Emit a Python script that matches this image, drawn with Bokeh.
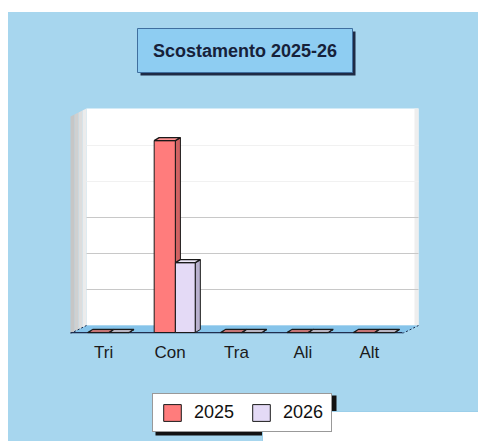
import numpy as np
from bokeh.plotting import figure
from bokeh.layouts import column
from bokeh.models import Range1d, FixedTicker, Legend, LegendItem, BoxAnnotation
from bokeh.core.properties import value
from bokeh.embed import file_html
from bokeh.resources import INLINE

# ---- data ----
categories = ["Tri", "Con", "Tra", "Ali", "Alt"]
series_names = ["2025", "2026"]
values_2025 = [0.0, 5.33, 0.0, 0.0, 0.0]
values_2026 = [0.0, 1.94, 0.0, 0.0, 0.0]
grid_values = [1, 2, 3, 4, 5]
title_text = "Scostamento 2025-26"

# ---- style / geometry ----
BG = "#A7D6EE"
FLOOR = "#86C4EA"
FONT = "Liberation Sans"
FRAME_W, FRAME_H = 470, 321
CAT_PX, UNIT_PX = 66.4, 36.0
PXX, PXY = 1.0 / CAT_PX, 1.0 / UNIT_PX
XL = -0.5                      # left edge of the chart box (front)
XR = XL + 348 * PXX            # right edge of the back wall
F0 = XL - 62 * PXX             # frame left
F1 = F0 + FRAME_W * PXX        # frame right
BDX, BDY = 16 * PXX, 8 * PXY   # full depth of the 3D box
WALL_TOP = 225 * PXY
FX, FY = 2 * PXX, 1 * PXY      # bar front-face shift
DX, DY = 5 * PXX, 3 * PXY      # bar depth

p = figure(frame_width=FRAME_W, frame_height=FRAME_H,
           min_border_left=0, min_border_right=0, min_border_top=0, min_border_bottom=47,
           x_range=Range1d(F0, F1), y_range=Range1d(0, FRAME_H * PXY),
           y_axis_location=None, output_backend="svg", toolbar_location=None,
           background_fill_color=None, border_fill_color=None)
p.grid.visible = False
p.outline_line_color = None

# back wall
p.quad(left=[XL + BDX], right=[XR], bottom=[BDY], top=[WALL_TOP],
       fill_color="white", line_color=None)
p.quad(left=[XR - 4 * PXX], right=[XR], bottom=[BDY], top=[WALL_TOP],
       fill_color="#EEEEEE", line_color=None)
# left wall (gradient strips)
wall_cols = ["#C6C6C6", "#D0D0D0", "#DDDDDD", "#ECECEC"]
n = len(wall_cols)
xs, ys = [], []
for i in range(n):
    f0, f1 = i / n, (i + 1) / n
    xa, xb = XL + BDX * f0, XL + BDX * f1
    xs.append([xa, xb, xb, xa])
    ys.append([BDY * f0, BDY * f1, WALL_TOP - BDY + BDY * f1, WALL_TOP - BDY + BDY * f0])
p.patches(xs=xs, ys=ys, fill_color=wall_cols, line_color=None)

# gridlines on back wall
gcols = ["#C8C8C8", "#C8C8C8", "#C8C8C8", "#F1F1F1", "#F1F1F1"]
gy = [g + BDY for g in grid_values]
p.segment(x0=[XL + BDX] * len(gy), y0=gy, x1=[XR] * len(gy), y1=gy,
          line_color=gcols, line_width=1)

# floor
p.patch(x=[XL, XL + BDX, XR, XR - BDX], y=[0, BDY, BDY, 0], fill_color=FLOOR, line_color=None)
p.segment(x0=[XL], y0=[0.02], x1=[XR - BDX], y1=[0.02], line_color="#1F2F4F", line_width=1.5)
p.segment(x0=[XL, XR - BDX], y0=[0, 0], x1=[XL + BDX, XR], y1=[BDY, BDY],
          line_color="#1F2F4F", line_width=1, line_dash="2 2")

# bars
centers = np.arange(len(categories))
specs = [
    (values_2025, -0.27, 0.05, "#FF7C7C", "#D06262", "#FF9494"),
    (values_2026, 0.05, 0.35, "#E4DAF6", "#B9B1CE", "#EFEAFB"),
]
for vals, o0, o1, cf, cs, ct in specs:
    v = np.array(vals)
    x0 = centers + o0 + FX
    x1 = centers + o1 + FX
    top = FY + v
    p.quad(left=x0, right=x1, bottom=[FY] * len(v), top=top,
           fill_color=cf, line_color="#1A1A1A", line_width=1)
    p.patches(xs=[[a, a + DX, a + DX, a] for a in x1],
              ys=[[FY, FY + DY, t + DY, t] for t in top],
              fill_color=cs, line_color="#1A1A1A", line_width=1)
    p.patches(xs=[[a, a + DX, b + DX, b] for a, b in zip(x0, x1)],
              ys=[[t, t + DY, t + DY, t] for t in top],
              fill_color=ct, line_color="#1A1A1A", line_width=1.4)

# title box
tx0, tx1 = XL + 67 * PXX, XL + 282 * PXX
ty0, ty1 = 261 * PXY, 305 * PXY
p.quad(left=[tx0 + 3 * PXX], right=[tx1 + 3 * PXX], bottom=[ty0 - 3 * PXY], top=[ty1 - 3 * PXY],
       fill_color="#1E2B45", line_color=None)
p.quad(left=[tx0], right=[tx1], bottom=[ty0], top=[ty1],
       fill_color="#8ECDF2", line_color="#3F6F9F", line_width=1)
p.text(x=[(tx0 + tx1) / 2], y=[(ty0 + ty1) / 2], text=[title_text],
       text_font=value(FONT), text_font_style="bold", text_font_size="18px",
       text_color="#16213A", text_align="center", text_baseline="middle")

# x axis
ax = p.xaxis[0]
ax.ticker = FixedTicker(ticks=list(range(len(categories))))
ax.major_label_overrides = {i: c for i, c in enumerate(categories)}
ax.axis_line_color = None
ax.major_tick_line_color = None
ax.minor_tick_line_color = None
ax.major_tick_out = 0
ax.major_tick_in = 0
ax.major_label_standoff = 9
ax.major_label_text_font = FONT
ax.major_label_text_font_size = "17px"
ax.major_label_text_color = "#1A1A1A"

# ---- legend strip (second figure; its bars lie outside its visible range) ----
LEG_W, LEG_H = 470, 61
pl = figure(width=LEG_W, height=LEG_H, min_border=0,
            x_range=Range1d(1000, 1001), y_range=Range1d(1000, 1001),
            x_axis_location=None, y_axis_location=None,
            output_backend="svg", toolbar_location=None,
            background_fill_color=None, border_fill_color=None)
pl.extra_x_ranges = {"px": Range1d(0, LEG_W)}
pl.extra_y_ranges = {"px": Range1d(0, LEG_H)}
pl.grid.visible = False
pl.outline_line_color = None
leg_renderers = []
for (vals, o0, o1, cf, cs, ct) in specs:
    v = np.array(vals)
    leg_renderers.append(pl.quad(left=centers + o0, right=centers + o1, bottom=[0] * len(v), top=v,
                                 fill_color=cf, line_color="#1A1A1A", line_width=1))
LX, LY, LW, LH = 144, 9, 181, 40
# legend shadow (behind the legend box)
pl.quad(left=[LX + 3], right=[LX + LW + 3], bottom=[LY - 3], top=[LY + LH - 3],
        fill_color="#111111", line_color=None, level="underlay",
        x_range_name="px", y_range_name="px")
legend = Legend(items=[LegendItem(label=s, renderers=[r]) for s, r in zip(series_names, leg_renderers)],
                orientation="horizontal", location=(LX, LY), level="glyph",
                background_fill_color="white", background_fill_alpha=1.0,
                border_line_color="#333333", border_line_width=1,
                padding=8, spacing=16, label_standoff=11, margin=0,
                glyph_width=22, glyph_height=21,
                label_text_font=FONT, label_text_font_size="18px", label_text_color="#111111")
pl.add_layout(legend, "center")
# white panel that overlaps the lower right of the legend in the reference
cover = BoxAnnotation(left=254, right=LEG_W, bottom=0, top=30, level="overlay",
                      x_range_name="px", y_range_name="px",
                      fill_color="#FFFFFF", fill_alpha=1.0,
                      line_color="#9CCFEA", line_alpha=1.0, line_width=1)
pl.add_layout(cover, "center")

layout = column(p, pl, spacing=0, margin=(12, 0, 0, 8), styles={"background-color": BG})
open("out.html", "w").write(file_html(layout, INLINE))
